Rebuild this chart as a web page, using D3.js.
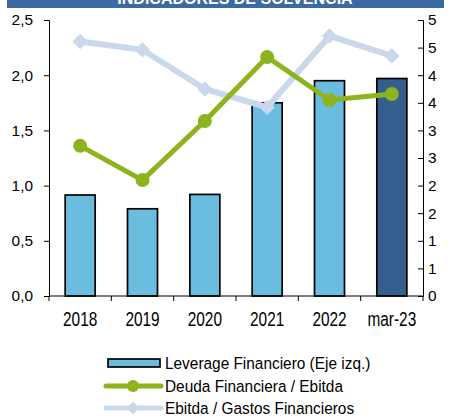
<!DOCTYPE html>
<html>
<head>
<meta charset="utf-8">
<script src="https://cdn.jsdelivr.net/npm/d3@7"></script>
<style>
  body { margin: 0; background: #fff; }
  svg { display: block; font-family: "Liberation Sans", Arial, sans-serif; }
</style>
</head>
<body>
<div id="chart"></div>
<script>
const categories = ['2018', '2019', '2020', '2021', '2022', 'mar-23'];
const leverage = [0.915, 0.79, 0.92, 1.75, 1.95, 1.97];
const deudaEbitda = [2.72, 2.1, 3.17, 4.33, 3.55, 3.66];
const ebitdaGastos = [4.61, 4.46, 3.75, 3.42, 4.71, 4.35];
const leftTicks = [0, 0.5, 1, 1.5, 2, 2.5];
const rightTicks = [0, 0.5, 1, 1.5, 2, 2.5, 3, 3.5, 4, 4.5, 5];
const legendLabels = ['Leverage Financiero (Eje izq.)', 'Deuda Financiera / Ebitda', 'Ebitda / Gastos Financieros'];

const width = 451;
const height = 418;
const plot = { left: 49, right: 423, top: 20, bottom: 296 };
const fs = 15.4;

const svg = d3.select('#chart')
  .append('svg')
  .attr('width', width)
  .attr('height', height);

// title bar (cut off at the top, as in the source)
svg.append('rect')
  .attr('x', 7).attr('y', -20)
  .attr('width', 437).attr('height', 28)
  .attr('fill', '#3B69A0');
svg.append('text')
  .attr('x', 235).attr('y', 4)
  .attr('text-anchor', 'middle')
  .attr('fill', '#fff')
  .attr('font-weight', 'bold')
  .attr('font-size', 16)
  .text('INDICADORES DE SOLVENCIA');

const x = d3.scaleBand()
  .domain(categories)
  .range([plot.left, plot.right]);

const yLeft = d3.scaleLinear().domain([0, 2.5]).range([plot.bottom, plot.top]);
const yRight = d3.scaleLinear().domain([0, 5]).range([plot.bottom, plot.top]);

// bars
const barW = 30;
svg.append('g')
  .selectAll('rect')
  .data(leverage)
  .join('rect')
  .attr('x', (d, i) => x(categories[i]) + x.bandwidth() / 2 - barW / 2)
  .attr('y', (d) => yLeft(d))
  .attr('width', barW)
  .attr('height', (d) => yLeft(0) - yLeft(d))
  .attr('fill', (d, i) => i === categories.length - 1 ? '#355F8F' : '#6BBDDF')
  .attr('stroke', '#000')
  .attr('stroke-width', 1.7);

// axes
const leftAxis = d3.axisLeft(yLeft)
  .tickValues(leftTicks)
  .tickSize(5)
  .tickPadding(11)
  .tickFormat((d) => d3.format('.1f')(d).replace('.', ','));
const gl = svg.append('g')
  .attr('transform', `translate(${plot.left},0)`)
  .call(leftAxis);

const rightAxis = d3.axisRight(yRight)
  .tickValues(rightTicks)
  .tickSize(-5)
  .tickPadding(5)
  .tickFormat((d) => String(Math.round(d + 1e-9)));
const gr = svg.append('g')
  .attr('transform', `translate(${plot.right},0)`)
  .call(rightAxis);

const bottomAxis = d3.axisBottom(x).tickSize(0).tickFormat('');
const gb = svg.append('g')
  .attr('transform', `translate(0,${plot.bottom})`)
  .call(bottomAxis);

// category separator ticks
gb.selectAll('.sep')
  .data(d3.range(categories.length + 1))
  .join('line')
  .attr('class', 'sep')
  .attr('x1', (i) => plot.left + i * x.step())
  .attr('x2', (i) => plot.left + i * x.step())
  .attr('y1', 0).attr('y2', 5)
  .attr('stroke', '#000');

// category labels (vertically stretched like the source)
gb.selectAll('.lab')
  .data(categories)
  .join('text')
  .attr('class', 'lab')
  .attr('transform', (d) => `translate(${x(d) + x.bandwidth() / 2},30) scale(1,1.28)`)
  .attr('text-anchor', 'middle')
  .attr('font-size', fs)
  .attr('fill', '#000')
  .text((d) => d);

[gl, gr, gb].forEach((g) => {
  g.select('.domain').attr('stroke', '#000').attr('stroke-width', 1);
  g.selectAll('.tick line').attr('stroke', '#000');
  g.selectAll('.tick text').attr('font-size', fs).attr('fill', '#000')
    .attr('font-family', '"Liberation Sans", Arial, sans-serif');
});
gb.select('.domain').attr('d', `M${plot.left},0H${plot.right}`);

const cx = (i) => x(categories[i]) + x.bandwidth() / 2;

// Ebitda / Gastos line
const lineE = d3.line().x((d, i) => cx(i)).y((d) => yRight(d));
svg.append('path')
  .datum(ebitdaGastos)
  .attr('d', lineE)
  .attr('fill', 'none')
  .attr('stroke', '#C9D8EA')
  .attr('stroke-width', 6);
svg.append('g')
  .selectAll('path')
  .data(ebitdaGastos)
  .join('path')
  .attr('d', d3.symbol(d3.symbolDiamond2, 150))
  .attr('transform', (d, i) => `translate(${cx(i)},${yRight(d)})`)
  .attr('fill', '#C9D8EA');

// Deuda / Ebitda line
svg.append('path')
  .datum(deudaEbitda)
  .attr('d', lineE)
  .attr('fill', 'none')
  .attr('stroke', '#8DB31F')
  .attr('stroke-width', 5);
svg.append('g')
  .selectAll('circle')
  .data(deudaEbitda)
  .join('circle')
  .attr('cx', (d, i) => cx(i))
  .attr('cy', (d) => yRight(d))
  .attr('r', 7)
  .attr('fill', '#8DB31F');

// legend
const lg = svg.append('g');
const rowY = [363, 386, 408];
lg.append('rect')
  .attr('x', 108).attr('y', rowY[0] - 4)
  .attr('width', 52).attr('height', 8)
  .attr('fill', '#6BBDDF')
  .attr('stroke', '#000')
  .attr('stroke-width', 1.7);
lg.append('line')
  .attr('x1', 106).attr('x2', 161)
  .attr('y1', rowY[1]).attr('y2', rowY[1])
  .attr('stroke', '#8DB31F').attr('stroke-width', 5)
  .attr('stroke-linecap', 'round');
lg.append('circle')
  .attr('cx', 133).attr('cy', rowY[1]).attr('r', 6)
  .attr('fill', '#8DB31F');
lg.append('line')
  .attr('x1', 106).attr('x2', 161)
  .attr('y1', rowY[2]).attr('y2', rowY[2])
  .attr('stroke', '#C9D8EA').attr('stroke-width', 5)
  .attr('stroke-linecap', 'round');
lg.append('path')
  .attr('d', d3.symbol(d3.symbolDiamond2, 110))
  .attr('transform', `translate(133,${rowY[2]})`)
  .attr('fill', '#C9D8EA');
lg.selectAll('text')
  .data(legendLabels)
  .join('text')
  .attr('transform', (d, i) => `translate(165,${rowY[i] + 6}) scale(1,1.12)`)
  .attr('font-size', fs)
  .text((d) => d);
</script>
</body>
</html>
